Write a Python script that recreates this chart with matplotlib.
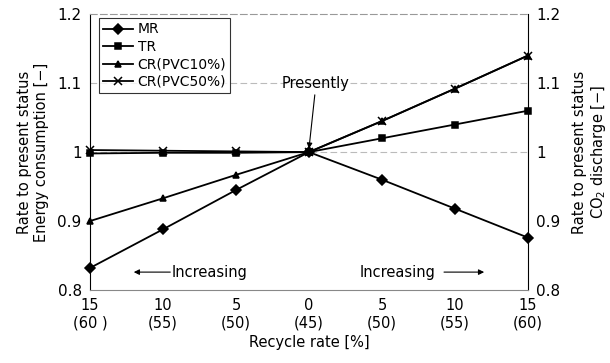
import matplotlib
matplotlib.use("Agg")
import matplotlib.pyplot as plt

categories = ["15\n(60 )", "10\n(55)", "5\n(50)", "0\n(45)", "5\n(50)", "10\n(55)", "15\n(60)"]
mr = [0.832, 0.888, 0.945, 1.0, 0.960, 0.918, 0.876]
tr = [0.998, 0.999, 0.999, 1.0, 1.020, 1.040, 1.060]
cr10 = [0.900, 0.933, 0.967, 1.0, 1.045, 1.092, 1.140]
cr50 = [1.003, 1.002, 1.001, 1.0, 1.045, 1.092, 1.140]
series = [("MR", mr, "D"), ("TR", tr, "s"), ("CR(PVC10%)", cr10, "^"), ("CR(PVC50%)", cr50, "x")]

plt.rcParams['font.family'] = ['DejaVu Sans']
fig = plt.figure(figsize=(6.1, 3.63), dpi=100)
ax = fig.add_axes([0.1475, 0.201, 0.718, 0.76])
x = list(range(len(categories)))
sizes = {"D": 5, "s": 5, "^": 5, "x": 5.5}
for name, vals, m in series:
    ax.plot(x, vals, color="black", lw=1.3, marker=m, markersize=sizes[m],
            markeredgewidth=1.1, label=name, clip_on=False, zorder=3)

ax.set_xlim(0, 6)
ax.set_ylim(0.8, 1.2)
ax.set_yticks([0.8, 0.9, 1.0, 1.1, 1.2])
ax.set_yticklabels(["0.8", "0.9", "1", "1.1", "1.2"], fontsize=11)
ax.set_xticks(x)
ax.set_xticklabels(categories, fontsize=10.5)
ax.tick_params(length=0, pad=6)
for yv in [1.0, 1.1]:
    ax.axhline(yv, color="#bbbbbb", lw=0.8, ls=(0, (6, 3)), zorder=0)
ax.spines['top'].set_color("#999999")
ax.spines['top'].set_linestyle((0, (6, 3)))
ax.spines['bottom'].set_color("#888888")
ax.spines['left'].set_color("black")
ax.spines['right'].set_color("black")
ax.set_xlabel("Recycle rate [%]", fontsize=10.5, labelpad=3)
ax.set_ylabel("Rate to present status\nEnergy consumption [\u2212]", fontsize=10.5, labelpad=6)

ax2 = ax.twinx()
ax2.set_ylim(0.8, 1.2)
ax2.set_yticks([0.8, 0.9, 1.0, 1.1, 1.2])
ax2.set_yticklabels(["0.8", "0.9", "1", "1.1", "1.2"], fontsize=11)
ax2.tick_params(length=0, pad=6)
for s in ax2.spines.values():
    s.set_visible(False)
ax2.set_ylabel("Rate to present status\nCO$_2$ discharge [\u2212]", fontsize=10.5, labelpad=8)

leg = ax.legend(loc="upper left", bbox_to_anchor=(0.02, 0.985), fontsize=10, frameon=True,
                fancybox=False, edgecolor="black", handlelength=2.2, borderpad=0.3,
                labelspacing=0.25, handletextpad=0.3, borderaxespad=0)
leg.get_frame().set_linewidth(0.8)

ax.text(2.62, 1.1, "Presently", fontsize=10.5, ha="left", va="center")
ax.annotate("", xy=(3, 1.005), xytext=(3.08, 1.083),
            arrowprops=dict(arrowstyle="-|>", color="black", lw=0.8, mutation_scale=8,
                            shrinkA=0, shrinkB=0))
ax.annotate("", xy=(0.6, 0.826), xytext=(1.1, 0.826),
            arrowprops=dict(arrowstyle="-|>", color="black", lw=0.8, mutation_scale=8, shrinkA=0, shrinkB=0))
ax.text(1.12, 0.826, "Increasing", fontsize=10.5, ha="left", va="center")
ax.text(3.7, 0.826, "Increasing", fontsize=10.5, ha="left", va="center")
ax.annotate("", xy=(5.4, 0.826), xytext=(4.85, 0.826),
            arrowprops=dict(arrowstyle="-|>", color="black", lw=0.8, mutation_scale=8, shrinkA=0, shrinkB=0))

fig.savefig("out.png", dpi=100)
